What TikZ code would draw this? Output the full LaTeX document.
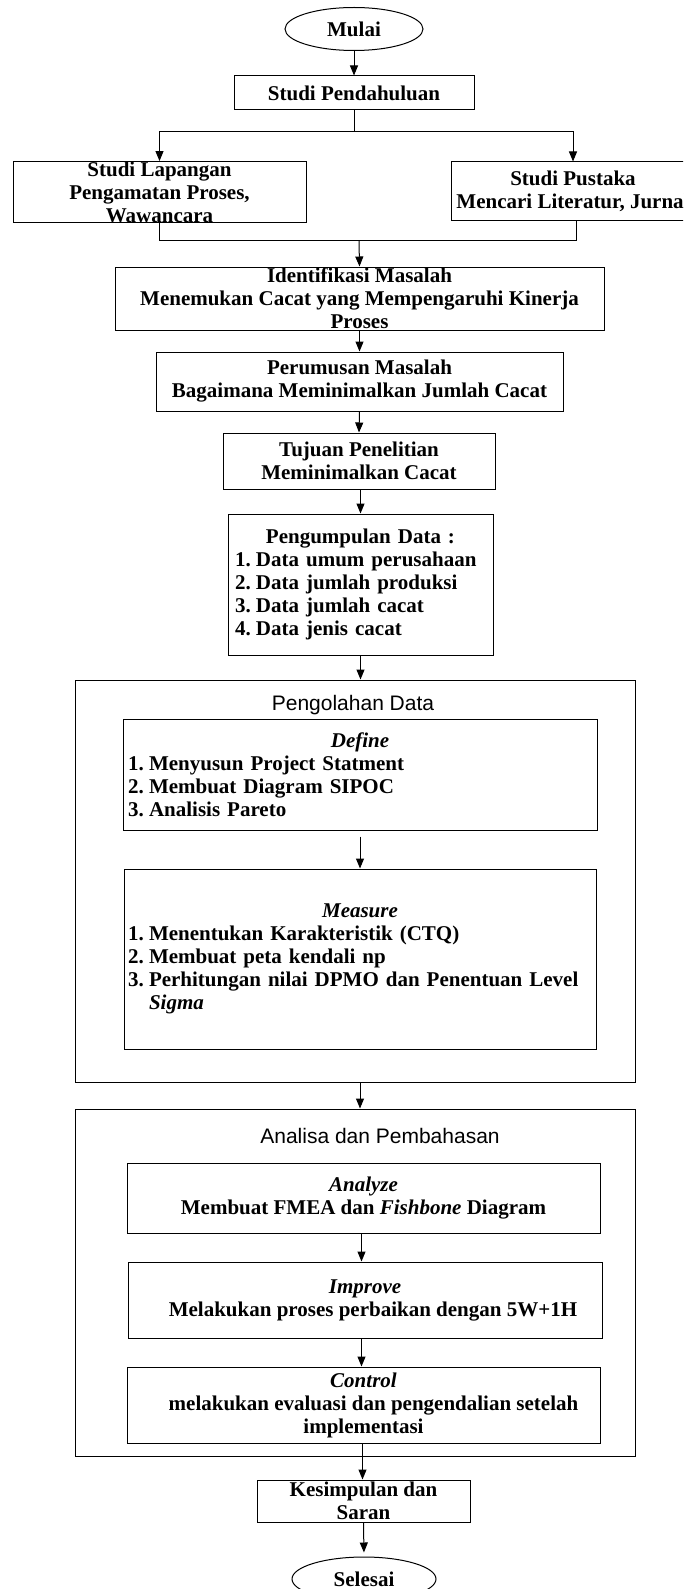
\documentclass[tikz,border=0pt]{standalone}
\usepackage{fontspec}
\setmainfont{Liberation Serif}
\newfontfamily\labelsans{Liberation Sans}
\usetikzlibrary{arrows.meta,shapes.geometric}

% fixed-width slot for list numbers
\newcommand\itemno[1]{\makebox[21pt][l]{#1}}

\begin{document}
\begin{tikzpicture}[x=1pt,y=-1pt,
  every node/.style={font=\fontsize{21}{23}\selectfont\bfseries},
  box/.style={draw, line width=1pt, rectangle, inner sep=0pt, align=center},
  listbox/.style={draw, line width=1pt, rectangle, inner sep=0pt, align=left},
  term/.style={draw, line width=1pt, ellipse, inner sep=0pt},
  frame/.style={draw, line width=1pt, rectangle, inner sep=0pt},
  title/.style={font=\fontsize{21}{23}\selectfont\labelsans, inner sep=0pt},
  flow/.style={line width=1pt, -{Triangle[length=10pt,width=8pt]}},
  link/.style={line width=1pt},
]
\useasboundingbox (0,0) rectangle (683,1589);

% start and preliminary study
\node[term, minimum width=138pt, minimum height=43pt] (mulai) at (354,29) {Mulai};
\node[box, minimum width=240pt, minimum height=34pt] (pend) at (354,93) {Studi Pendahuluan};

% field study and literature study
\node[box, minimum width=293pt, minimum height=60pt] (lap) at (159.5,192)
  {Studi Lapangan\\Pengamatan Proses,\\Wawancara};
\begin{scope}
\clip (0,0) rectangle (683,1589);
\node[box, minimum width=244pt, minimum height=59pt] (pus) at (573,191.5)
  {Studi Pustaka\\Mencari Literatur, Jurnal};
\end{scope}

% problem definition chain
\node[box, minimum width=489pt, minimum height=63pt] (ident) at (359.5,298.5)
  {Identifikasi Masalah\\Menemukan Cacat yang Mempengaruhi Kinerja\\Proses};
\node[box, minimum width=407pt, minimum height=59pt] (perum) at (359.5,381.5)
  {Perumusan Masalah\\Bagaimana Meminimalkan Jumlah Cacat};
\node[box, minimum width=272pt, minimum height=56pt] (tujuan) at (359,461)
  {Tujuan Penelitian\\Meminimalkan Cacat};
\node[listbox, minimum width=265pt, minimum height=141pt, text width=251pt] (kumpul) at (360.5,584.5)
  {\makebox[251pt][c]{Pengumpulan Data :}\\
   \itemno{1.}Data umum perusahaan\\
   \itemno{2.}Data jumlah produksi\\
   \itemno{3.}Data jumlah cacat\\
   \itemno{4.}Data jenis cacat};

% data processing group
\node[frame, minimum width=560pt, minimum height=402pt] (olah) at (355,881) {};
\node[title] (olahT) at (353,705) {Pengolahan Data};
\node[listbox, minimum width=474pt, minimum height=111pt, text width=464pt] (define) at (360,774.5)
  {\makebox[464pt][c]{\textit{Define}}\\
   \itemno{1.}Menyusun Project Statment\\
   \itemno{2.}Membuat Diagram SIPOC\\
   \itemno{3.}Analisis Pareto};
\node[listbox, minimum width=472pt, minimum height=180pt, text width=464pt] (measure) at (360,959)
  {\makebox[464pt][c]{\textit{Measure}}\\
   \itemno{1.}Menentukan Karakteristik (CTQ)\\
   \itemno{2.}Membuat peta kendali np\\
   \itemno{3.}Perhitungan nilai DPMO dan Penentuan Level\\
   \hspace*{21pt}\textit{Sigma}};

% analysis group
\node[frame, minimum width=560pt, minimum height=347pt] (anls) at (355,1282.5) {};
\node[title] (anlsT) at (380,1136) {Analisa dan Pembahasan};
\node[box, minimum width=473pt, minimum height=70pt] (analyze) at (363.5,1198)
  {\textit{Analyze}\\Membuat FMEA dan \textit{Fishbone} Diagram};
\node[box, minimum width=474pt, minimum height=76pt] (improve) at (365,1300)
  {\textit{Improve}\\\hspace*{16pt}Melakukan proses perbaikan dengan 5W+1H};
\node[box, minimum width=473pt, minimum height=76pt] (control) at (363.5,1405)
  {\textit{Control}\\\hspace*{20pt}melakukan evaluasi dan pengendalian setelah\\implementasi};

% conclusion and end
\node[box, minimum width=213pt, minimum height=42pt] (kes) at (363.5,1501)
  {Kesimpulan dan\\Saran};
\node[term, minimum width=144pt, minimum height=44pt] (sel) at (364,1579) {Selesai};

% connectors
\coordinate (split) at (354,132);
\coordinate (merge) at (359,241);
\draw[flow] (mulai.south) -- (pend.north);
\draw[link] (pend.south) -- (split);
\draw[flow] (split) -| (lap.north);
\draw[flow] (split) -| (pus.north);
\draw[link] (lap.south) |- (merge);
\draw[link] ([xshift=3pt]pus.south) |- (merge);
\draw[flow] (merge) -- (ident.north);
\draw[flow] (ident.south) -- (perum.north);
\draw[flow] (perum.south) -- (tujuan.north);
\draw[flow] (tujuan.south) -- (kumpul.south |- tujuan.south) -- (kumpul.north);
\draw[flow] (kumpul.south) -- (kumpul.south |- olah.north);
\draw[flow, shorten <=6pt] (define.south) -- (measure.north);
\draw[flow] (measure.south |- olah.south) -- (measure.south |- anls.north);
\draw[flow] ([xshift=-2pt]analyze.south) -- ([xshift=-2pt]analyze.south |- improve.north);
\draw[flow] ([xshift=-2pt]analyze.south |- improve.south) -- ([xshift=-2pt]analyze.south |- control.north);
\draw[flow] ([xshift=-1pt]control.south) -- ([xshift=-1pt]control.south |- kes.north);
\draw[flow, shorten >=4pt] (kes.south) -- (sel.north);
\end{tikzpicture}
\end{document}
